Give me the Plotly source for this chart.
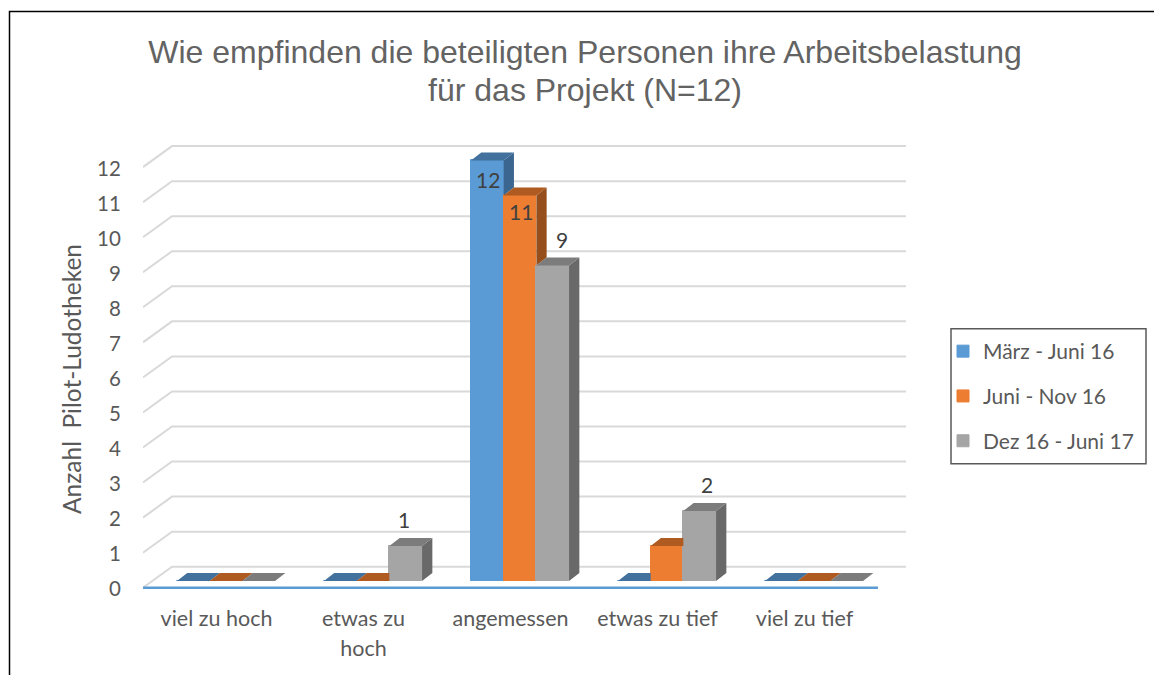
import plotly.graph_objects as go

categories = ["viel zu hoch", "etwas zu<br>hoch", "angemessen", "etwas zu tief", "viel zu tief"]
series_names = ["März - Juni 16", "Juni - Nov 16", "Dez 16 - Juni 17"]
maerz_juni_16 = [0, 0, 12, 0, 0]
juni_nov_16 = [0, 0, 11, 1, 0]
dez_16_juni_17 = [0, 1, 9, 2, 0]
y_ticks = list(range(0, 13))
series_values = [maerz_juni_16, juni_nov_16, dez_16_juni_17]
title_lines = ["Wie empfinden die beteiligten Personen ihre Arbeitsbelastung", "für das Projekt (N=12)"]

front_colors = ["#5B9BD5", "#ED7D31", "#A5A5A5"]
top_colors = ["#41719C", "#AE5A21", "#7C7C7C"]
side_colors = ["#3B6690", "#964E1D", "#696969"]
TEXT = "#595959"
FONT = "Lato"

W, H = 1154, 675
L, R, T, B = 143, 906, 140, 618
BAND = 147.0
FIRST_CENTER = 216.5
UNIT = 35.05
Y_LABEL0, Y_FRONT0, Y_BAR0, Y_BACK0 = 589.2, 587.7, 581.0, 566.7
BAR_W = 32.7 / BAND
BAR_SHIFT = 9.5 / BAND
DX = 10.3 / BAND
DY = 8.0 / UNIT


def ux(px):
    return (px - FIRST_CENTER) / BAND


def paper_x(px):
    return (px - L) / (R - L)


def paper_y(py):
    return (B - py) / (B - T)


def span(text, size):
    return f'<span style="font-size:{size}px">{text}</span>'


fig = go.Figure()

front_lift = (Y_LABEL0 - Y_FRONT0) / UNIT
back_lift = (Y_LABEL0 - Y_BACK0) / UNIT
gx, gy = [], []
for t in y_ticks:
    gx += [ux(L), ux(172), ux(R), None]
    gy += [t + front_lift, t + back_lift, t + back_lift, None]
fig.add_trace(go.Scatter(x=gx, y=gy, mode="lines", line=dict(color="#D9D9D9", width=2),
                         hoverinfo="skip", showlegend=False, xaxis="x", yaxis="y"))
fig.add_trace(go.Scatter(x=[ux(L), ux(878)], y=[front_lift, front_lift], mode="lines",
                         line=dict(color="#5B9BD5", width=2.5),
                         hoverinfo="skip", showlegend=False, xaxis="x", yaxis="y"))

x_pos = list(range(len(categories)))
for s, vals in enumerate(series_values):
    off = (s - 1.5) * BAR_W + BAR_SHIFT
    fig.add_trace(go.Bar(x=x_pos, y=vals, name=series_names[s], width=BAR_W, offset=off,
                         marker=dict(color=front_colors[s], line=dict(color=front_colors[s], width=1)),
                         xaxis="x", yaxis="y2", legendgroup=series_names[s]))

for s, vals in enumerate(series_values):
    off = (s - 1.5) * BAR_W + BAR_SHIFT
    tx, ty, sx, sy = [], [], [], []
    for i, v in enumerate(vals):
        a, b = i + off, i + off + BAR_W
        nxt = series_values[s + 1][i] if s < 2 else None
        if nxt is not None and nxt > v:
            tx += [a, a + DX, b, b, None]
            ty += [v, v + DY, v + DY, v, None]
        else:
            tx += [a, a + DX, b + DX, b, a, None]
            ty += [v, v + DY, v + DY, v, v, None]
        low = 0 if nxt is None else nxt
        if v > low:
            sx += [b, b + DX, b + DX, b, b, None]
            sy += [v, v + DY, low + DY, low, v, None]
    fig.add_trace(go.Scatter(x=sx, y=sy, mode="lines", fill="toself", fillcolor=side_colors[s],
                             line=dict(width=0), hoverinfo="skip", showlegend=False,
                             xaxis="x", yaxis="y2"))
    fig.add_trace(go.Scatter(x=tx, y=ty, mode="lines", fill="toself", fillcolor=top_colors[s],
                             line=dict(width=0), hoverinfo="skip", showlegend=False,
                             xaxis="x", yaxis="y2"))

nudges = {(2, 0): (1, -19.5), (2, 1): (1, -16.5), (2, 2): (9, 26), (1, 2): (-1.5, 26), (3, 2): (7.5, 26)}
annotations = []
for s, vals in enumerate(series_values):
    off = (s - 1.5) * BAR_W + BAR_SHIFT
    for i, v in enumerate(vals):
        if v and (i, s) in nudges:
            nx, ny = nudges[(i, s)]
            annotations.append(dict(x=i + off + BAR_W / 2, y=v, xref="x", yref="y2", text=str(v),
                                    showarrow=False, xshift=nx, yshift=ny,
                                    font=dict(family=FONT, size=21, color="#404040")))

TICK_SIZE = 21.5
ticktext = ["<br>".join(span(p, TICK_SIZE) for p in c.split("<br>")) for c in categories]
title_text = "<br>".join(span(p, 32) for p in title_lines)

shapes = [
    dict(type="path", xref="paper", yref="paper", line=dict(color="#000000", width=1.5),
         path=f"M {paper_x(9.5)} {paper_y(675)} L {paper_x(9.5)} {paper_y(11.5)} L {paper_x(1154)} {paper_y(11.5)}"),
    dict(type="rect", xref="paper", yref="paper", line=dict(color="#595959", width=1.5),
         fillcolor="white", layer="below",
         x0=paper_x(951), x1=paper_x(1146), y0=paper_y(463.7), y1=paper_y(328.7)),
]

fig.update_layout(
    width=W, height=H, autosize=False, paper_bgcolor="white", plot_bgcolor="rgba(0,0,0,0)",
    margin=dict(l=L, r=W - R, t=T, b=H - B, pad=0, autoexpand=False),
    barmode="overlay", bargap=0, showlegend=True,
    font=dict(family=FONT, size=21, color=TEXT),
    title=dict(text=title_text, x=585 / W, xanchor="center", y=1 - 63 / H, yanchor="top",
               xref="container", yref="container",
               font=dict(family="Liberation Sans", size=29.5, color="#636363")),
    xaxis=dict(range=[ux(L), ux(R)], tickmode="array", tickvals=x_pos, ticktext=ticktext, showgrid=False,
               zeroline=False, showline=False, ticks="", anchor="free", position=paper_y(602),
               tickfont=dict(family=FONT, size=23, color=TEXT), tickangle=0, fixedrange=True),
    yaxis=dict(range=[(Y_LABEL0 - B) / UNIT, (Y_LABEL0 - T) / UNIT], tickmode="array", tickvals=y_ticks,
               ticktext=[str(t) for t in y_ticks], showgrid=False, zeroline=False, showline=False,
               ticks="outside", ticklen=17, tickcolor="rgba(0,0,0,0)", fixedrange=True,
               tickfont=dict(family=FONT, size=20.5, color=TEXT),
               title=dict(text="Anzahl\u00a0\u00a0Pilot-Ludotheken", standoff=8,
                          font=dict(family=FONT, size=24.5, color=TEXT))),
    yaxis2=dict(range=[(Y_BAR0 - B) / UNIT, (Y_BAR0 - T) / UNIT], overlaying="y", visible=False, fixedrange=True),
    legend=dict(x=paper_x(951), y=paper_y(331), xanchor="left", yanchor="top", tracegroupgap=14.5,
                bgcolor="rgba(0,0,0,0)", borderwidth=0, indentation=-8, traceorder="grouped",
                font=dict(family=FONT, size=21, color=TEXT)),
    shapes=shapes, annotations=annotations,
)

fig.write_html("out.html", config={"displayModeBar": False},
               post_script="document.body.style.margin='0';document.body.style.overflow='hidden';")
